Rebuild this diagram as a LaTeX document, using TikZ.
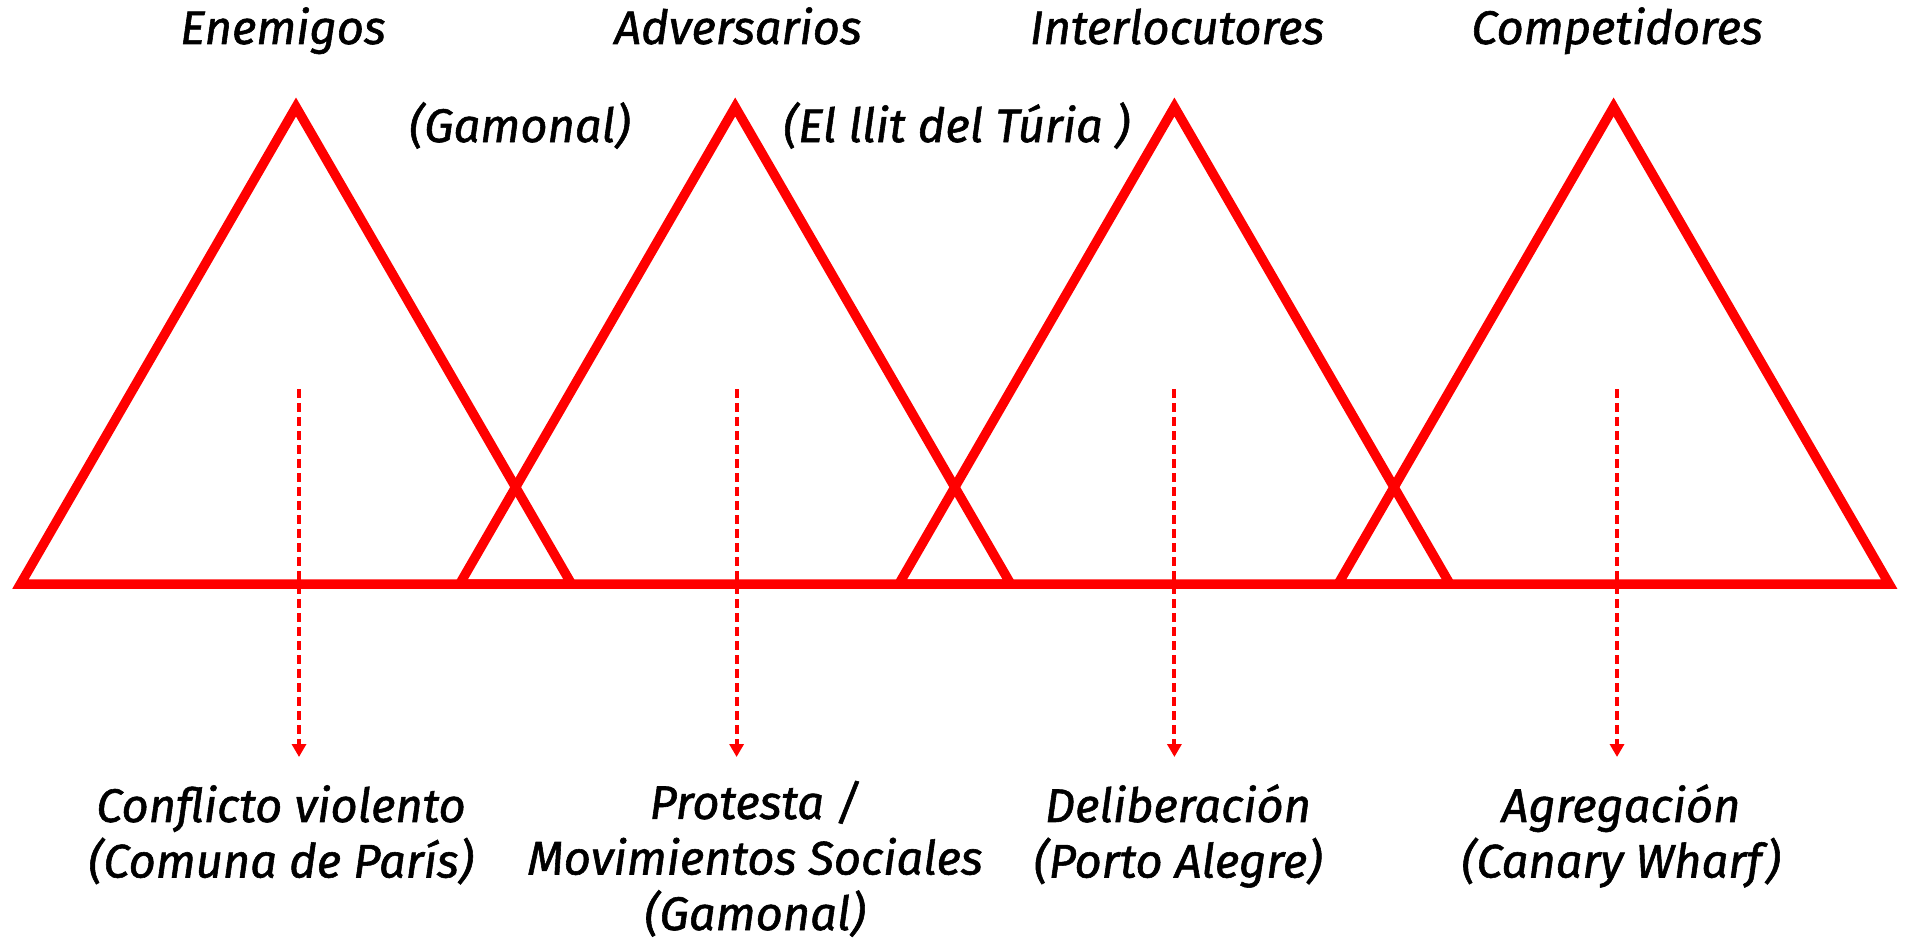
\documentclass[tikz,border=0pt]{standalone}
\usepackage{fontspec}
\setmainfont{Fira Sans}[ItalicFeatures={FakeBold=1.2}]
\usetikzlibrary{arrows.meta}
\tikzset{tri/.style={draw=red, line width=0.095cm, line join=miter},
  flow/.style={draw=red, line width=0.04cm, dash pattern=on 0.093cm off 0.047cm, -{Triangle[width=0.14cm,length=0.13cm]}},
  lbl/.style={font=\fontsize{13.4}{15.8}\selectfont\itshape, align=center, inner sep=0pt},}

\begin{document}
\begin{tikzpicture}
\useasboundingbox (0,0) rectangle (19.06,9.40);
% apexes of the four triangles
\coordinate (t1) at (2.96,8.33);
\coordinate (t2) at (7.352,8.33);
\coordinate (t3) at (11.744,8.33);
\coordinate (t4) at (16.136,8.33);
\draw[tri] (t1) -- ++(-2.755,-4.77) -- ++(5.51,0) -- cycle;
\draw[tri] (t2) -- ++(-2.755,-4.77) -- ++(5.51,0) -- cycle;
\draw[tri] (t3) -- ++(-2.755,-4.77) -- ++(5.51,0) -- cycle;
\draw[tri] (t4) -- ++(-2.755,-4.77) -- ++(5.51,0) -- cycle;
% titles
\node[lbl, anchor=base] (enem) at (2.83,8.96) {Enemigos};
\node[lbl, anchor=base] (adve) at (7.38,8.96) {Adversarios};
\node[lbl, anchor=base] (inte) at (11.77,8.96) {Interlocutores};
\node[lbl, anchor=base] (comp) at (16.17,8.96) {Competidores};
\node[lbl, anchor=base] (gamo) at (5.197,7.98) {(Gamonal)};
\node[lbl, anchor=base] (turia) at (9.566,7.98) {(El llit del Túria )};
% outcomes (base = last line)
\node[lbl, anchor=base] (c1) at (2.81,0.625) {Conflicto violento\\(Comuna de París)};
\node[lbl, anchor=base] (c2) at (7.55,0.10) {Protesta /\\Movimientos Sociales\\(Gamonal)};
\node[lbl, anchor=base] (c3) at (11.78,0.625) {Deliberación\\(Porto Alegre)};
\node[lbl, anchor=base] (c4) at (16.21,0.625) {Agregación\\(Canary Wharf)};
\coordinate (s1) at (2.99,5.51);
\coordinate (s2) at (7.366,5.51);
\coordinate (s3) at (11.744,5.51);
\coordinate (s4) at (16.17,5.51);
\coordinate (e1) at (2.99,1.83);
\coordinate (e2) at (7.366,1.83);
\coordinate (e3) at (11.744,1.83);
\coordinate (e4) at (16.17,1.83);
\draw[flow] (s1) -- (e1);
\draw[flow] (s2) -- (e2);
\draw[flow] (s3) -- (e3);
\draw[flow] (s4) -- (e4);
\end{tikzpicture}
\end{document}
